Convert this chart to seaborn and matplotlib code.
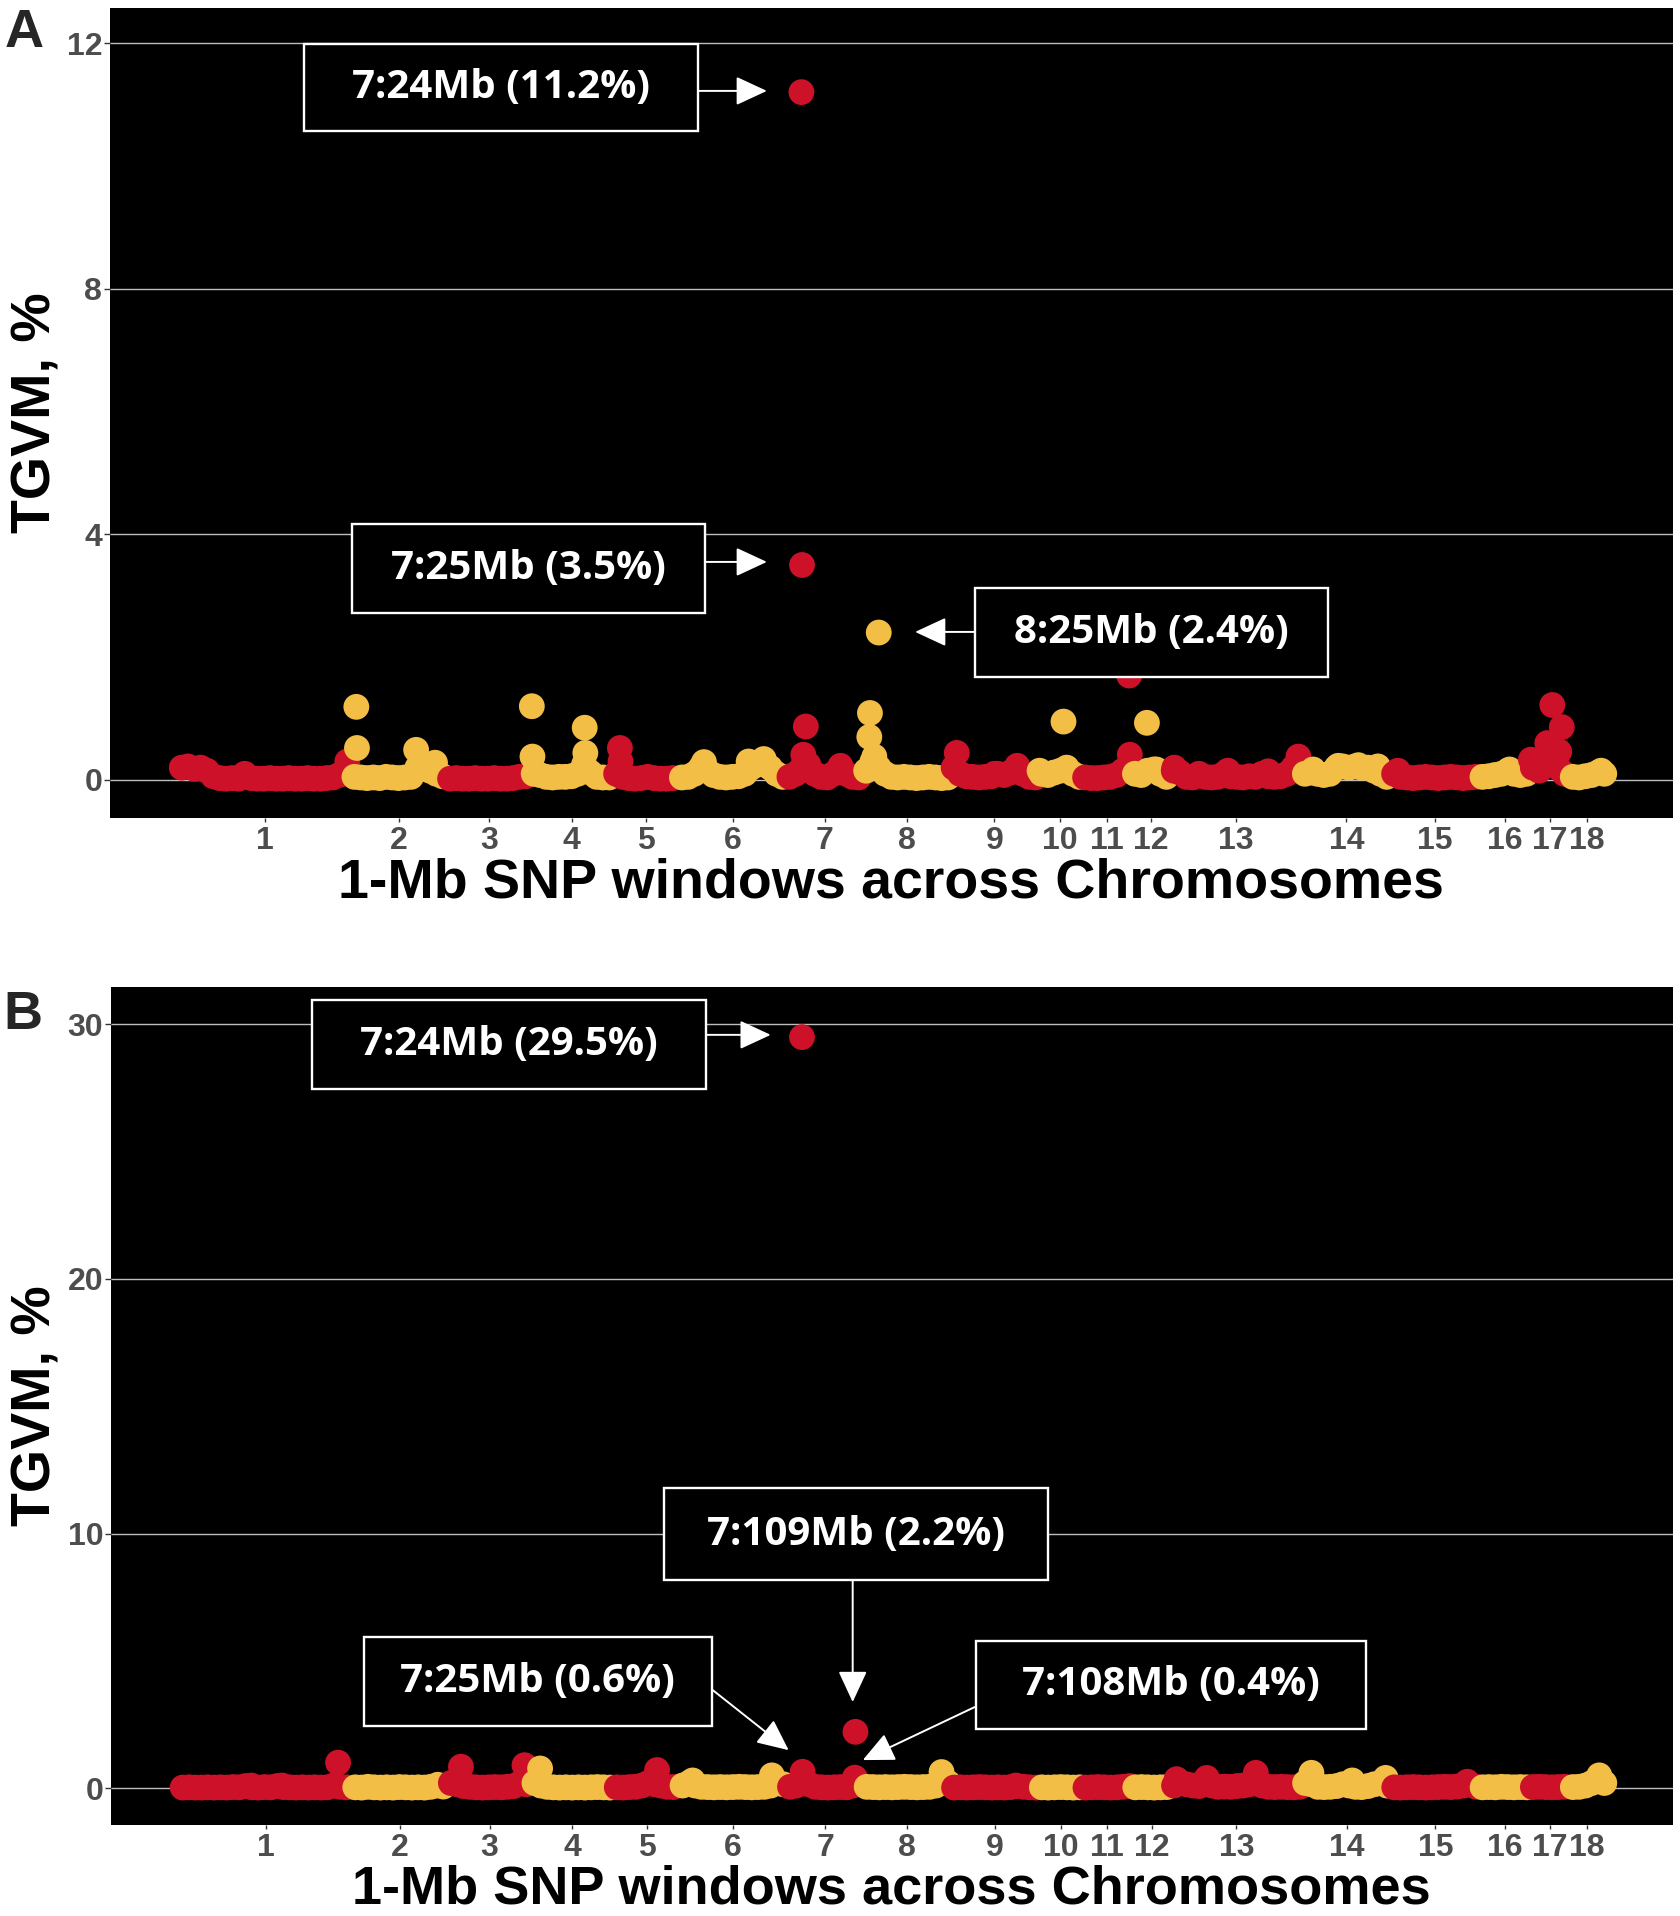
import numpy as np
import pandas as pd
import matplotlib
matplotlib.use("Agg")
import matplotlib.pyplot as plt
from matplotlib.patches import Rectangle
import seaborn as sns

sns.set_style("white")
plt.rcParams['font.family'] = ['Liberation Sans', 'DejaVu Sans']

# ---------------- data ----------------
chrom_labels = [str(i) for i in range(1, 19)]
chrom_len_mb = [274.33, 151.94, 132.85, 130.91, 104.53, 170.84, 121.84, 138.97, 139.51,
                69.36, 79.17, 61.60, 208.33, 141.76, 140.41, 79.94, 63.49, 55.98]

# background windows (one value per 10-Mb step, starting 5 Mb), panel A
baseA = [
    [0.2, 0.22, 0.18, 0.2, 0.15, 0.06, 0.03, 0.02, 0.03, 0.02, 0.1, 0.03, 0.02, 0.02, 0.03, 0.02, 0.02, 0.03, 0.02, 0.02, 0.03, 0.02, 0.02, 0.03, 0.04, 0.08, 0.12],
    [0.05, 0.04, 0.03, 0.04, 0.03, 0.05, 0.04, 0.03, 0.04, 0.05, 0.2, 0.25, 0.15, 0.1, 0.06],
    [0.02, 0.03, 0.02, 0.02, 0.03, 0.02, 0.02, 0.03, 0.02, 0.02, 0.03, 0.05, 0.06],
    [0.1, 0.08, 0.05, 0.04, 0.05, 0.05, 0.06, 0.1, 0.25, 0.12, 0.05, 0.04, 0.04],
    [0.1, 0.05, 0.03, 0.02, 0.03, 0.05, 0.03, 0.02, 0.02, 0.03],
    [0.04, 0.05, 0.1, 0.2, 0.15, 0.08, 0.05, 0.04, 0.05, 0.06, 0.1, 0.2, 0.25, 0.28, 0.2, 0.1, 0.05],
    [0.05, 0.1, 0.2, 0.25, 0.1, 0.05, 0.04, 0.1, 0.2, 0.1, 0.05, 0.04],
    [0.15, 0.3, 0.2, 0.1, 0.05, 0.04, 0.05, 0.04, 0.03, 0.04, 0.05, 0.04, 0.03, 0.04],
    [0.2, 0.1, 0.06, 0.05, 0.04, 0.05, 0.06, 0.1, 0.08, 0.12, 0.15, 0.1, 0.05, 0.04],
    [0.1, 0.08, 0.12, 0.15, 0.2, 0.1, 0.05],
    [0.04, 0.03, 0.03, 0.04, 0.05, 0.08, 0.15, 0.2],
    [0.1, 0.08, 0.15, 0.17, 0.1, 0.05],
    [0.15, 0.12, 0.05, 0.04, 0.08, 0.05, 0.04, 0.05, 0.1, 0.06, 0.05, 0.04, 0.06, 0.05, 0.1, 0.06, 0.05, 0.06, 0.1, 0.2, 0.15],
    [0.1, 0.12, 0.1, 0.08, 0.1, 0.2, 0.22, 0.2, 0.22, 0.2, 0.2, 0.15, 0.1, 0.05],
    [0.1, 0.05, 0.04, 0.03, 0.04, 0.05, 0.04, 0.03, 0.04, 0.05, 0.04, 0.03, 0.04, 0.05],
    [0.05, 0.06, 0.08, 0.1, 0.15, 0.1, 0.08, 0.1],
    [0.2, 0.15, 0.25, 0.3, 0.2, 0.1],
    [0.05, 0.04, 0.06, 0.08, 0.12, 0.1],
]
peakA_chr = [1, 2, 2, 2, 2, 4, 4, 4, 4, 5, 5, 6, 6, 6, 7, 7, 7, 7, 7, 8, 8, 8, 8, 9, 9, 9, 10, 10, 10,
             11, 11, 12, 12, 13, 13, 13, 13, 13, 14, 14, 14, 14, 15, 16, 17, 17, 17, 17, 17, 18]
peakA_pos = [268, 8, 9, 103, 133, 2, 3, 86, 87, 11, 12, 40, 111, 135, 27, 31, 86, 24, 25, 10, 11, 18, 25,
             10, 70, 106, 2, 40, 45, 75, 76, 24, 39, 6, 45, 91, 155, 203, 18, 58, 90, 121, 11, 48,
             2, 28, 47, 51, 36, 50]
peakA_val = [0.3, 1.19, 0.52, 0.49, 0.28, 1.2, 0.38, 0.85, 0.44, 0.52, 0.3, 0.29, 0.3, 0.34,
             0.41, 0.87, 0.23, 11.2, 3.5, 0.7, 1.09, 0.38, 2.4, 0.44, 0.1, 0.23, 0.15, 0.95, 0.18,
             1.7, 0.41, 0.93, 0.17, 0.2, 0.1, 0.15, 0.14, 0.38, 0.17, 0.23, 0.24, 0.22, 0.15, 0.17,
             0.33, 0.6, 0.46, 0.86, 1.22, 0.15]

baseB = [
    [0.02, 0.03, 0.02, 0.02, 0.03, 0.02, 0.03, 0.02, 0.04, 0.03, 0.08, 0.03, 0.02, 0.04, 0.03, 0.08, 0.04, 0.03, 0.02, 0.03, 0.02, 0.03, 0.02, 0.03, 0.1, 0.05, 0.03],
    [0.03, 0.02, 0.05, 0.03, 0.02, 0.03, 0.02, 0.04, 0.03, 0.02, 0.03, 0.02, 0.05, 0.1, 0.06],
    [0.2, 0.15, 0.08, 0.05, 0.03, 0.02, 0.03, 0.04, 0.03, 0.05, 0.08, 0.2, 0.15],
    [0.2, 0.1, 0.05, 0.03, 0.02, 0.03, 0.02, 0.03, 0.02, 0.03, 0.04, 0.03, 0.02],
    [0.03, 0.02, 0.04, 0.05, 0.1, 0.2, 0.15, 0.1, 0.05, 0.04],
    [0.1, 0.2, 0.1, 0.05, 0.04, 0.03, 0.04, 0.03, 0.04, 0.05, 0.04, 0.03, 0.04, 0.05, 0.1, 0.2, 0.15],
    [0.05, 0.1, 0.2, 0.15, 0.05, 0.03, 0.02, 0.03, 0.04, 0.03, 0.1, 0.15],
    [0.05, 0.04, 0.03, 0.04, 0.03, 0.04, 0.05, 0.04, 0.03, 0.04, 0.05, 0.1, 0.3, 0.2],
    [0.02, 0.03, 0.02, 0.03, 0.04, 0.03, 0.02, 0.03, 0.02, 0.04, 0.08, 0.05, 0.03, 0.02],
    [0.03, 0.02, 0.03, 0.04, 0.03, 0.02, 0.03],
    [0.02, 0.03, 0.04, 0.03, 0.02, 0.03, 0.05, 0.08],
    [0.03, 0.04, 0.03, 0.02, 0.03, 0.04],
    [0.1, 0.2, 0.15, 0.1, 0.08, 0.15, 0.1, 0.05, 0.06, 0.05, 0.08, 0.1, 0.15, 0.2, 0.1, 0.05, 0.04, 0.05, 0.04, 0.03, 0.05],
    [0.2, 0.15, 0.05, 0.04, 0.05, 0.08, 0.15, 0.1, 0.05, 0.04, 0.08, 0.15, 0.2, 0.1],
    [0.03, 0.02, 0.03, 0.04, 0.03, 0.02, 0.03, 0.04, 0.05, 0.04, 0.06, 0.1, 0.15, 0.05],
    [0.03, 0.04, 0.03, 0.05, 0.04, 0.03, 0.04, 0.03],
    [0.04, 0.05, 0.04, 0.03, 0.04, 0.05],
    [0.04, 0.05, 0.1, 0.2, 0.3, 0.2],
]
peakB_chr = [1, 1, 1, 2, 3, 3, 4, 5, 6, 6, 7, 7, 7, 7, 8, 9, 13, 13, 13, 14, 14, 14, 15, 18]
peakB_pos = [114, 163, 252, 136, 21, 122, 14, 69, 21, 147, 24, 25, 108, 109, 124, 103, 9, 57, 135, 15, 80, 133, 121, 47]
peakB_val = [0.1, 0.1, 1.0, 0.13, 0.84, 0.9, 0.77, 0.71, 0.3, 0.5, 29.5, 0.64, 0.41, 2.21, 0.63, 0.1,
             0.35, 0.4, 0.6, 0.6, 0.3, 0.4, 0.25, 0.5]

RED = '#CC1128'
YEL = '#F2BE45'

offsets = np.concatenate([[0], np.cumsum(chrom_len_mb)[:-1]])
mids = offsets + np.array(chrom_len_mb) / 2


def build(base, pchr, ppos, pval):
    xs, ys, gs = [], [], []
    for i in range(18):
        grp = 'odd' if (i + 1) % 2 == 1 else 'even'
        pos = 5 + 10 * np.arange(len(base[i]))
        for p, v in zip(pos, base[i]):
            xs.append(offsets[i] + p); ys.append(v); gs.append(grp)
        for c, p, v in zip(pchr, ppos, pval):
            if c == i + 1:
                xs.append(offsets[i] + p); ys.append(v); gs.append(grp)
    return pd.DataFrame({'pos': xs, 'tgvm': ys, 'grp': gs})


dfA = build(baseA, peakA_chr, peakA_pos, peakA_val)
dfB = build(baseB, peakB_chr, peakB_pos, peakB_val)

# ---------------- figure ----------------
W, H = 1680, 1916
fig = plt.figure(figsize=(W / 100, H / 100), dpi=100)
axA = fig.add_axes([110 / W, 1 - 818 / H, 1563 / W, 810 / H])
axB = fig.add_axes([111 / W, 1 - 1825 / H, 1562 / W, 838 / H])

TICK_COL = '#4D4D4D'
ANN_FONT = ['Open Sans', 'DejaVu Sans']


def style(ax, df, ylim, yticks, xpad):
    ax.set_facecolor('black')
    sns.scatterplot(data=df, x='pos', y='tgvm', hue='grp', palette={'odd': RED, 'even': YEL},
                    s=345, linewidth=0, legend=False, ax=ax, zorder=3)
    ax.set_xlim(-109, 2374)
    ax.set_ylim(*ylim)
    ax.set_yticks(yticks)
    ax.set_yticklabels([str(t) for t in yticks])
    ax.set_xticks(mids)
    ax.set_xticklabels(chrom_labels)
    ax.yaxis.grid(True, color='#BDBDBD', lw=1.0, zorder=1)
    ax.xaxis.grid(False)
    ax.set_axisbelow(True)
    for s in ax.spines.values():
        s.set_visible(False)
    ax.tick_params(axis='y', length=4, width=1, color='#333333', pad=1.5,
                   labelsize=23, labelcolor=TICK_COL, left=True)
    ax.tick_params(axis='x', length=3, width=1, color='#333333', pad=xpad,
                   labelsize=23, labelcolor=TICK_COL, bottom=True)
    for lab in ax.get_xticklabels() + ax.get_yticklabels():
        lab.set_fontweight('bold')
    ax.set_xlabel('')
    ax.set_ylabel('')


style(axA, dfA, (-0.62, 12.57), [0, 4, 8, 12], 2.9)
style(axB, dfB, (-1.45, 31.47), [0, 10, 20, 30], 2.5)


def box(ax, x0, x1, y0, y1, text):
    ax.add_patch(Rectangle((x0, y0), x1 - x0, y1 - y0, facecolor='black', edgecolor='white',
                           lw=1.7, zorder=6))
    ax.text((x0 + x1) / 2, (y0 + y1) / 2, text, color='white', fontsize=29, fontweight='bold',
            family=ANN_FONT, ha='center', va='center', zorder=7)


def arrow(ax, tail, tip):
    ax.annotate('', xy=tip, xytext=tail, xycoords='data', textcoords='data',
                arrowprops=dict(arrowstyle='-|>,head_length=0.97,head_width=0.45', mutation_scale=20,
                                color='white', lw=1.4, shrinkA=0, shrinkB=0),
                zorder=7)


# panel A annotations
box(axA, 199.2, 825.4, 10.57, 11.99, '7:24Mb (11.2%)')
arrow(axA, (826.7, 11.22), (934.5, 11.22))
box(axA, 275.3, 836.4, 2.72, 4.17, '7:25Mb (3.5%)')
arrow(axA, (836.4, 3.55), (934.5, 3.55))
box(axA, 1265.3, 1826.1, 1.68, 3.13, '8:25Mb (2.4%)')
arrow(axA, (1265.3, 2.41), (1170.0, 2.41))

# panel B annotations
box(axB, 210.4, 836.4, 27.47, 30.96, '7:24Mb (29.5%)')
arrow(axB, (838.0, 29.59), (939.7, 29.59))
box(axB, 769.6, 1379.8, 8.17, 11.79, '7:109Mb (2.2%)')
arrow(axB, (1070.0, 8.17), (1070.0, 3.38))
box(axB, 293.0, 845.9, 2.44, 5.93, '7:25Mb (0.6%)')
arrow(axB, (847.5, 3.85), (968.2, 1.49))
box(axB, 1265.3, 1886.5, 2.32, 5.78, '7:108Mb (0.4%)')
arrow(axB, (1263.7, 3.18), (1086.1, 1.10))

# titles and panel letters
for yb, fs in ((898, 40), (1903, 39)):
    fig.text(891 / W, 1 - yb / H, '1-Mb SNP windows across Chromosomes', ha='center',
             va='baseline', fontsize=fs, fontweight='bold', color='black')
for yc in (413, 1406):
    fig.text(37 / W, 1 - yc / H, 'TGVM, %', rotation=90, ha='center', va='center',
             fontsize=40, fontweight='bold', color='black')
fig.text(24 / W, 1 - 47 / H, 'A', ha='center', va='baseline', fontsize=39, fontweight='bold')
fig.text(23 / W, 1 - 1029 / H, 'B', ha='center', va='baseline', fontsize=39, fontweight='bold')

fig.savefig('out.png', dpi=100, facecolor='white')
